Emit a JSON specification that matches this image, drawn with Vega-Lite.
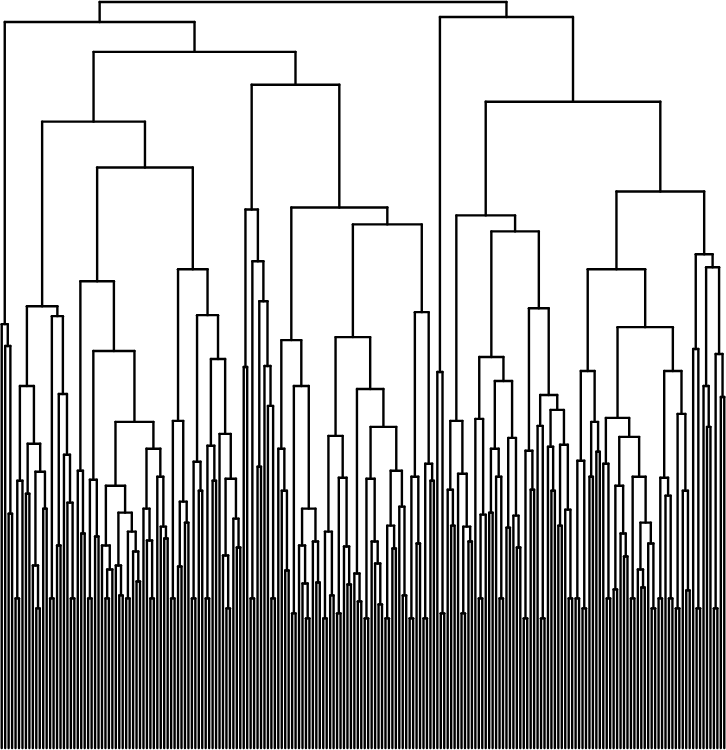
{
  "$schema": "https://vega.github.io/schema/vega-lite/v6.json",
  "width": 726,
  "height": 750,
  "autosize": {"type": "fit", "contains": "padding"},
  "padding": 0,
  "background": "white",
  "config": {"view": {"stroke": null}},
  "data": {"values": [
    {"a":2,"b":3,"d":515,"da":750,"db":750},
    {"a":1,"b":2.5,"d":347,"da":750,"db":515},
    {"a":0,"b":1.75,"d":325,"da":750,"db":347},
    {"a":4,"b":5,"d":600,"da":750,"db":750},
    {"a":4.5,"b":6,"d":482,"da":600,"db":750},
    {"a":7,"b":8,"d":495,"da":750,"db":750},
    {"a":10,"b":11,"d":610,"da":750,"db":750},
    {"a":9,"b":10.5,"d":567,"da":750,"db":610},
    {"a":12,"b":13,"d":510,"da":750,"db":750},
    {"a":9.75,"b":12.5,"d":473,"da":567,"db":510},
    {"a":7.5,"b":11.125,"d":445,"da":495,"db":473},
    {"a":5.25,"b":9.3125,"d":387,"da":482,"db":445},
    {"a":14,"b":15,"d":600,"da":750,"db":750},
    {"a":16,"b":17,"d":547,"da":750,"db":750},
    {"a":20,"b":21,"d":600,"da":750,"db":750},
    {"a":19,"b":20.5,"d":504,"da":750,"db":600},
    {"a":18,"b":19.75,"d":456,"da":750,"db":504},
    {"a":16.5,"b":18.875,"d":395,"da":547,"db":456},
    {"a":14.5,"b":17.6875,"d":317,"da":600,"db":395},
    {"a":7.28125,"b":16.09375,"d":307,"da":387,"db":317},
    {"a":23,"b":24,"d":535,"da":750,"db":750},
    {"a":22,"b":23.5,"d":472,"da":750,"db":535},
    {"a":25,"b":26,"d":600,"da":750,"db":750},
    {"a":27,"b":28,"d":538,"da":750,"db":750},
    {"a":25.5,"b":27.5,"d":481,"da":600,"db":538},
    {"a":30,"b":31,"d":600,"da":750,"db":750},
    {"a":30.5,"b":32,"d":571,"da":600,"db":750},
    {"a":29,"b":31.25,"d":547,"da":750,"db":571},
    {"a":34,"b":35,"d":597,"da":750,"db":750},
    {"a":33,"b":34.5,"d":567,"da":750,"db":597},
    {"a":36,"b":37,"d":600,"da":750,"db":750},
    {"a":39,"b":40,"d":583,"da":750,"db":750},
    {"a":38,"b":39.5,"d":553,"da":750,"db":583},
    {"a":36.5,"b":38.75,"d":533,"da":600,"db":553},
    {"a":33.75,"b":37.625,"d":514,"da":567,"db":533},
    {"a":30.125,"b":35.6875,"d":487,"da":547,"db":514},
    {"a":43,"b":44,"d":600,"da":750,"db":750},
    {"a":42,"b":43.5,"d":542,"da":750,"db":600},
    {"a":41,"b":42.75,"d":510,"da":750,"db":542},
    {"a":47,"b":48,"d":540,"da":750,"db":750},
    {"a":46,"b":47.5,"d":528,"da":750,"db":540},
    {"a":45,"b":46.75,"d":478,"da":750,"db":528},
    {"a":41.875,"b":45.875,"d":450,"da":510,"db":478},
    {"a":32.9063,"b":43.875,"d":423,"da":487,"db":450},
    {"a":26.5,"b":38.3906,"d":352,"da":481,"db":423},
    {"a":22.75,"b":32.4453,"d":282,"da":472,"db":352},
    {"a":49,"b":50,"d":600,"da":750,"db":750},
    {"a":51,"b":52,"d":568,"da":750,"db":750},
    {"a":53,"b":54,"d":524,"da":750,"db":750},
    {"a":51.5,"b":53.5,"d":503,"da":568,"db":524},
    {"a":49.5,"b":52.5,"d":422,"da":600,"db":503},
    {"a":55,"b":56,"d":600,"da":750,"db":750},
    {"a":57,"b":58,"d":492,"da":750,"db":750},
    {"a":55.5,"b":57.5,"d":463,"da":600,"db":492},
    {"a":59,"b":60,"d":600,"da":750,"db":750},
    {"a":61,"b":62,"d":482,"da":750,"db":750},
    {"a":59.5,"b":61.5,"d":447,"da":600,"db":482},
    {"a":65,"b":66,"d":610,"da":750,"db":750},
    {"a":64,"b":65.5,"d":557,"da":750,"db":610},
    {"a":68,"b":69,"d":549,"da":750,"db":750},
    {"a":67,"b":68.5,"d":520,"da":750,"db":549},
    {"a":64.75,"b":67.75,"d":480,"da":557,"db":520},
    {"a":63,"b":66.25,"d":435,"da":750,"db":480},
    {"a":60.5,"b":64.625,"d":360,"da":447,"db":435},
    {"a":56.5,"b":62.5625,"d":316,"da":463,"db":360},
    {"a":51,"b":59.5313,"d":270,"da":422,"db":316},
    {"a":27.5977,"b":55.2656,"d":168,"da":282,"db":270},
    {"a":11.6875,"b":41.4316,"d":122,"da":307,"db":168},
    {"a":70,"b":71,"d":368,"da":750,"db":750},
    {"a":72,"b":73,"d":600,"da":750,"db":750},
    {"a":74,"b":75,"d":468,"da":750,"db":750},
    {"a":78,"b":79,"d":600,"da":750,"db":750},
    {"a":77,"b":78.5,"d":407,"da":750,"db":600},
    {"a":76,"b":77.75,"d":367,"da":750,"db":407},
    {"a":74.5,"b":76.875,"d":302,"da":468,"db":367},
    {"a":72.5,"b":75.6875,"d":262,"da":600,"db":302},
    {"a":70.5,"b":74.0938,"d":210,"da":368,"db":262},
    {"a":82,"b":83,"d":572,"da":750,"db":750},
    {"a":81,"b":82.5,"d":492,"da":750,"db":572},
    {"a":80,"b":81.75,"d":450,"da":750,"db":492},
    {"a":84,"b":85,"d":615,"da":750,"db":750},
    {"a":88,"b":89,"d":620,"da":750,"db":750},
    {"a":87,"b":88.5,"d":585,"da":750,"db":620},
    {"a":86,"b":87.75,"d":547,"da":750,"db":585},
    {"a":91,"b":92,"d":584,"da":750,"db":750},
    {"a":90,"b":91.5,"d":543,"da":750,"db":584},
    {"a":86.875,"b":90.75,"d":510,"da":547,"db":543},
    {"a":84.5,"b":88.8125,"d":387,"da":615,"db":510},
    {"a":80.875,"b":86.6563,"d":341,"da":450,"db":387},
    {"a":93,"b":94,"d":620,"da":750,"db":750},
    {"a":95,"b":96,"d":597,"da":750,"db":750},
    {"a":93.5,"b":95.5,"d":533,"da":620,"db":597},
    {"a":97,"b":98,"d":615,"da":750,"db":750},
    {"a":100,"b":101,"d":586,"da":750,"db":750},
    {"a":99,"b":100.5,"d":548,"da":750,"db":586},
    {"a":97.5,"b":99.75,"d":479,"da":615,"db":548},
    {"a":94.5,"b":98.625,"d":437,"da":533,"db":479},
    {"a":103,"b":104,"d":603,"da":750,"db":750},
    {"a":102,"b":103.5,"d":575,"da":750,"db":603},
    {"a":105,"b":106,"d":620,"da":750,"db":750},
    {"a":109,"b":110,"d":606,"da":750,"db":750},
    {"a":108,"b":109.5,"d":565,"da":750,"db":606},
    {"a":107,"b":108.75,"d":543,"da":750,"db":565},
    {"a":105.5,"b":107.875,"d":480,"da":620,"db":543},
    {"a":111,"b":112,"d":620,"da":750,"db":750},
    {"a":113,"b":114,"d":550,"da":750,"db":750},
    {"a":111.5,"b":113.5,"d":527,"da":620,"db":550},
    {"a":116,"b":117,"d":597,"da":750,"db":750},
    {"a":115,"b":116.5,"d":508,"da":750,"db":597},
    {"a":112.5,"b":115.75,"d":472,"da":527,"db":508},
    {"a":106.6875,"b":114.125,"d":428,"da":480,"db":472},
    {"a":102.75,"b":110.4063,"d":390,"da":575,"db":428},
    {"a":96.5625,"b":106.5781,"d":338,"da":437,"db":390},
    {"a":118,"b":119,"d":620,"da":750,"db":750},
    {"a":120,"b":121,"d":545,"da":750,"db":750},
    {"a":118.5,"b":120.5,"d":478,"da":620,"db":545},
    {"a":122,"b":123,"d":620,"da":750,"db":750},
    {"a":124,"b":125,"d":482,"da":750,"db":750},
    {"a":122.5,"b":124.5,"d":465,"da":620,"db":482},
    {"a":119.5,"b":123.5,"d":313,"da":478,"db":465},
    {"a":101.5703,"b":121.5,"d":225,"da":338,"db":313},
    {"a":83.7656,"b":111.5352,"d":208,"da":341,"db":225},
    {"a":72.2969,"b":97.6504,"d":85,"da":210,"db":208},
    {"a":26.5596,"b":84.9736,"d":52,"da":122,"db":85},
    {"a":0.875,"b":55.7666,"d":22,"da":325,"db":52},
    {"a":127,"b":128,"d":615,"da":750,"db":750},
    {"a":126,"b":127.5,"d":373,"da":750,"db":615},
    {"a":130,"b":131,"d":527,"da":750,"db":750},
    {"a":129,"b":130.5,"d":491,"da":750,"db":527},
    {"a":133,"b":134,"d":615,"da":750,"db":750},
    {"a":135,"b":136,"d":543,"da":750,"db":750},
    {"a":133.5,"b":135.5,"d":528,"da":615,"db":543},
    {"a":132,"b":134.5,"d":475,"da":750,"db":528},
    {"a":129.75,"b":133.25,"d":422,"da":491,"db":475},
    {"a":138,"b":139,"d":600,"da":750,"db":750},
    {"a":138.5,"b":140,"d":516,"da":600,"db":750},
    {"a":137,"b":139.25,"d":420,"da":750,"db":516},
    {"a":141,"b":142,"d":514,"da":750,"db":750},
    {"a":144,"b":145,"d":600,"da":750,"db":750},
    {"a":143,"b":144.5,"d":478,"da":750,"db":600},
    {"a":141.5,"b":143.75,"d":450,"da":514,"db":478},
    {"a":146,"b":147,"d":529,"da":750,"db":750},
    {"a":149,"b":150,"d":549,"da":750,"db":750},
    {"a":148,"b":149.5,"d":517,"da":750,"db":549},
    {"a":146.5,"b":148.75,"d":439,"da":529,"db":517},
    {"a":142.625,"b":147.625,"d":382,"da":450,"db":439},
    {"a":138.125,"b":145.125,"d":358,"da":420,"db":382},
    {"a":151,"b":152,"d":620,"da":750,"db":750},
    {"a":153,"b":154,"d":491,"da":750,"db":750},
    {"a":151.5,"b":153.5,"d":452,"da":620,"db":491},
    {"a":156,"b":157,"d":620,"da":750,"db":750},
    {"a":155,"b":156.5,"d":427,"da":750,"db":620},
    {"a":159,"b":160,"d":492,"da":750,"db":750},
    {"a":158,"b":159.5,"d":448,"da":750,"db":492},
    {"a":161,"b":162,"d":527,"da":750,"db":750},
    {"a":164,"b":165,"d":600,"da":750,"db":750},
    {"a":163,"b":164.5,"d":511,"da":750,"db":600},
    {"a":161.5,"b":163.75,"d":446,"da":527,"db":511},
    {"a":158.75,"b":162.625,"d":411,"da":448,"db":446},
    {"a":155.75,"b":160.6875,"d":396,"da":427,"db":411},
    {"a":152.5,"b":158.2188,"d":309,"da":452,"db":396},
    {"a":141.625,"b":155.3594,"d":232,"da":358,"db":309},
    {"a":131.5,"b":148.4922,"d":216,"da":422,"db":232},
    {"a":166,"b":167,"d":600,"da":750,"db":750},
    {"a":168,"b":169,"d":610,"da":750,"db":750},
    {"a":166.5,"b":168.5,"d":462,"da":600,"db":610},
    {"a":170,"b":171,"d":478,"da":750,"db":750},
    {"a":172,"b":173,"d":453,"da":750,"db":750},
    {"a":170.5,"b":172.5,"d":423,"da":478,"db":453},
    {"a":167.5,"b":171.5,"d":372,"da":462,"db":423},
    {"a":175,"b":176,"d":600,"da":750,"db":750},
    {"a":174,"b":175.5,"d":465,"da":750,"db":600},
    {"a":177,"b":178,"d":591,"da":750,"db":750},
    {"a":180,"b":181,"d":558,"da":750,"db":750},
    {"a":179,"b":180.5,"d":535,"da":750,"db":558},
    {"a":177.5,"b":179.75,"d":487,"da":591,"db":535},
    {"a":182,"b":183,"d":600,"da":750,"db":750},
    {"a":185,"b":186,"d":589,"da":750,"db":750},
    {"a":184,"b":185.5,"d":571,"da":750,"db":589},
    {"a":188,"b":189,"d":610,"da":750,"db":750},
    {"a":187,"b":188.5,"d":545,"da":750,"db":610},
    {"a":184.75,"b":187.75,"d":524,"da":571,"db":545},
    {"a":182.5,"b":186.25,"d":478,"da":600,"db":524},
    {"a":178.625,"b":184.375,"d":438,"da":487,"db":478},
    {"a":174.75,"b":181.5,"d":419,"da":465,"db":438},
    {"a":190,"b":191,"d":600,"da":750,"db":750},
    {"a":193,"b":194,"d":600,"da":750,"db":750},
    {"a":192,"b":193.5,"d":497,"da":750,"db":600},
    {"a":190.5,"b":192.75,"d":479,"da":600,"db":497},
    {"a":195,"b":196,"d":610,"da":750,"db":750},
    {"a":198,"b":199,"d":592,"da":750,"db":750},
    {"a":197,"b":198.5,"d":492,"da":750,"db":592},
    {"a":195.5,"b":197.75,"d":415,"da":610,"db":492},
    {"a":191.625,"b":196.625,"d":372,"da":479,"db":415},
    {"a":178.125,"b":194.125,"d":328,"da":419,"db":372},
    {"a":169.5,"b":186.125,"d":270,"da":372,"db":328},
    {"a":201,"b":202,"d":610,"da":750,"db":750},
    {"a":200,"b":201.5,"d":350,"da":750,"db":610},
    {"a":204,"b":205,"d":428,"da":750,"db":750},
    {"a":203,"b":204.5,"d":387,"da":750,"db":428},
    {"a":206,"b":207,"d":610,"da":750,"db":750},
    {"a":208,"b":209,"d":398,"da":750,"db":750},
    {"a":206.5,"b":208.5,"d":355,"da":610,"db":398},
    {"a":203.75,"b":207.5,"d":268,"da":387,"db":355},
    {"a":200.75,"b":205.625,"d":255,"da":350,"db":268},
    {"a":177.8125,"b":203.1875,"d":192,"da":270,"db":255},
    {"a":139.9961,"b":190.5,"d":102,"da":216,"db":192},
    {"a":126.75,"b":165.248,"d":17,"da":373,"db":102},
    {"a":28.3208,"b":145.999,"d":2,"da":22,"db":17}
  ]},
  "layer": [
    {
      "mark": {"type": "rule", "color": "black", "strokeWidth": 2.4, "strokeCap": "round"},
      "encoding": {
        "x": {"field": "a", "type": "quantitative", "scale": {"domain": [-0.5, 209.5], "nice": false, "zero": false}, "axis": null},
        "x2": {"field": "b"},
        "y": {"field": "d", "type": "quantitative", "scale": {"domain": [0, 750], "reverse": true, "nice": false, "zero": false}, "axis": null}
      }
    },
    {
      "mark": {"type": "rule", "color": "black", "strokeWidth": 2.4, "strokeCap": "round"},
      "encoding": {
        "x": {"field": "a", "type": "quantitative", "scale": {"domain": [-0.5, 209.5], "nice": false, "zero": false}, "axis": null},
        "y": {"field": "d", "type": "quantitative", "scale": {"domain": [0, 750], "reverse": true, "nice": false, "zero": false}, "axis": null},
        "y2": {"field": "da"}
      }
    },
    {
      "mark": {"type": "rule", "color": "black", "strokeWidth": 2.4, "strokeCap": "round"},
      "encoding": {
        "x": {"field": "b", "type": "quantitative", "scale": {"domain": [-0.5, 209.5], "nice": false, "zero": false}, "axis": null},
        "y": {"field": "d", "type": "quantitative", "scale": {"domain": [0, 750], "reverse": true, "nice": false, "zero": false}, "axis": null},
        "y2": {"field": "db"}
      }
    }
  ]
}
